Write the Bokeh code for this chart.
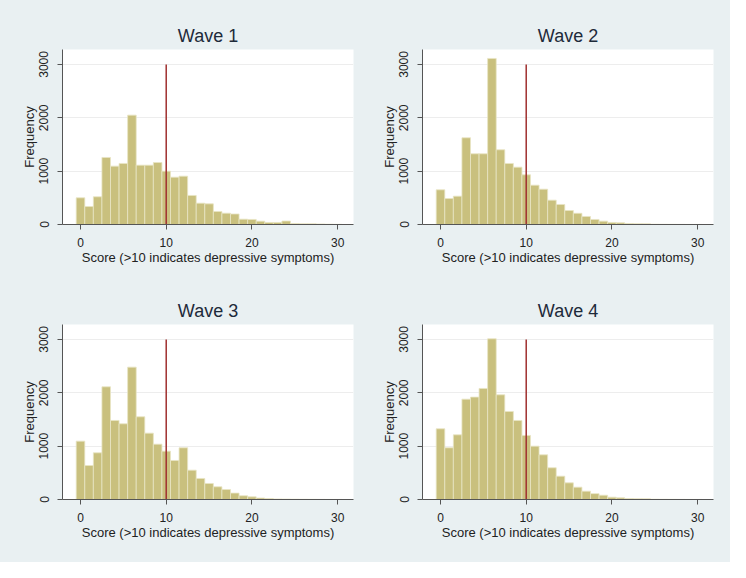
from bokeh.plotting import figure
from bokeh.layouts import gridplot
from bokeh.models import FixedTicker, ColumnDataSource
from bokeh.embed import file_html
from bokeh.resources import INLINE

# ---------------- data ----------------
scores = list(range(0, 31))
wave1 = [500, 337, 519, 1256, 1094, 1144, 2050, 1112, 1112, 1162, 1000, 887, 906, 544, 400,
         387, 244, 212, 197, 100, 95, 62, 38, 38, 65, 18, 12, 12, 10, 5, 3]
wave2 = [650, 487, 531, 1625, 1325, 1325, 3112, 1400, 1144, 1075, 931, 737, 662, 456, 375,
         262, 210, 150, 94, 63, 38, 31, 18, 15, 12, 5, 4, 3, 2, 1, 1]
wave3 = [1094, 637, 875, 2112, 1481, 1419, 2481, 1550, 1244, 1037, 906, 731, 969, 550, 394,
         300, 238, 187, 120, 70, 50, 28, 18, 10, 8, 5, 4, 3, 2, 1, 1]
wave4 = [1325, 969, 1212, 1881, 1919, 2081, 3012, 1962, 1650, 1481, 1200, 1000, 837, 594, 437,
         312, 231, 156, 110, 80, 44, 31, 18, 15, 12, 5, 4, 3, 2, 1, 1]
titles = ["Wave 1", "Wave 2", "Wave 3", "Wave 4"]
threshold = 10
ref_top = 3000
x_ticks = [0, 10, 20, 30]
y_ticks = [0, 1000, 2000, 3000]
x_label = "Score (>10 indicates depressive symptoms)"
y_label = "Frequency"

BG = "#E9F0F2"
BAR = "#C9C07E"
FONT = "Liberation Sans"


def make_panel(title, counts, left, right, top, bottom):
    p = figure(width=365, height=281, output_backend="svg", toolbar_location=None,
               x_range=(-2.1, 31.85), y_range=(0, 3280),
               min_border_left=left, min_border_right=right,
               min_border_top=top, min_border_bottom=bottom,
               background_fill_color="white", border_fill_color=BG,
               outline_line_color=None, title=title,
               styles={"background-color": BG})
    p.title.align = "center"
    p.title.text_font = FONT
    p.title.text_font_size = "18px"
    p.title.text_font_style = "normal"
    p.title.text_color = "#1E2A3A"
    p.title.standoff = 7

    src = ColumnDataSource(dict(x=scores, top=counts))
    p.vbar(x="x", top="top", bottom=0, width=1.0, source=src,
           fill_color=BAR, line_color="#E9E5C4", line_width=0.8)
    p.segment(x0=[threshold], y0=[0], x1=[threshold], y1=[ref_top],
              line_color="#A0302F", line_width=1.5)

    p.xaxis.ticker = FixedTicker(ticks=x_ticks)
    p.yaxis.ticker = FixedTicker(ticks=y_ticks)
    p.xaxis.axis_label = x_label
    p.yaxis.axis_label = y_label
    for ax in (p.xaxis[0], p.yaxis[0]):
        ax.axis_label_text_font = FONT
        ax.axis_label_text_font_size = "13px"
        ax.axis_label_text_font_style = "normal"
        ax.axis_label_text_color = "#222222"
        ax.major_label_text_font = FONT
        ax.major_label_text_font_size = "12px"
        ax.major_label_text_color = "#222222"
        ax.axis_line_color = "#555555"
        ax.major_tick_line_color = "#555555"
        ax.major_tick_out = 5
        ax.major_tick_in = 0
        ax.minor_tick_line_color = None
    p.yaxis.major_label_orientation = "vertical"
    p.yaxis.major_label_standoff = 9
    p.yaxis.axis_label_standoff = 0
    p.xaxis.major_label_standoff = 8
    p.xaxis.axis_label_standoff = 0
    p.xgrid.grid_line_color = None
    p.ygrid.grid_line_color = "#EDEDED"
    p.ygrid.ticker = FixedTicker(ticks=y_ticks)
    return p


p1 = make_panel(titles[0], wave1, 62, 12, 49, 57)
p2 = make_panel(titles[1], wave2, 57, 17, 49, 57)
p3 = make_panel(titles[2], wave3, 62, 12, 43, 63)
p4 = make_panel(titles[3], wave4, 57, 17, 43, 63)

p = gridplot([[p1, p2], [p3, p4]], toolbar_location=None)
p.styles = {"background-color": BG}

html = file_html(p, INLINE)
html = html.replace("<body>", '<body style="background-color: %s;">' % BG, 1)
open("out.html", "w").write(html)
